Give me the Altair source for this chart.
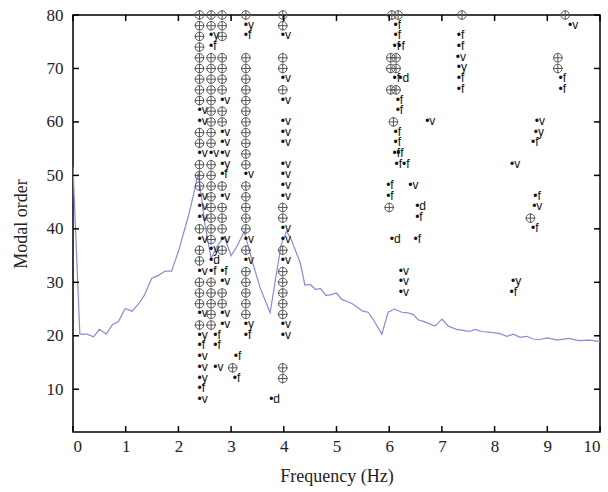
import altair as alt
import pandas as pd

# model orders of the stabilization diagram rows (top to bottom)
ORDERS = [80, 78, 76, 74, 72, 70, 68, 66, 64, 62, 60, 58, 56, 54, 52, 50, 48, 46, 44,
          42, 40, 38, 36, 34, 32, 30, 28, 26, 24, 22, 20, 18, 16, 14, 12, 10, 8]

# main pole columns: frequency and one code per order ('o' stable, v/f/d/y partly stable, '.' none)
COL_FREQ = [2.40, 2.62, 2.83, 3.28, 3.98]
COL_A = "".join(["ooooooooo", "vv", "oo", "v", "ooo", "vvv", "o", "v", "oo", "v",
                 "ooo", "v", "o", "yfvvyfv"])
COL_B = "".join(["ooyf", "ooooooooo", "v", "oooooooo", "y", "d", "f", "ooooo",
                 "......."])
COL_C = "".join(["ooo.", "oooo", "v", "oo", "vvv", "y", "f", "o", "v", "ooo", "v", "o",
                 ".", "f", "v", "oo", "vv", "......."])
COL_D = "".join(["oyf.", "ooooooooooo", "v", "ooooo", "v", "o", "v", "ooooo", "yf",
                 "......"])
COL_E = "".join(["oov.", "oo", "v", "o", "v", ".", "vvv", ".", "vvvv", "oo", "vv", "o",
                 "v", "ooooo", "vv", "..", "oo", ".."])
COL_CODES = [COL_A, COL_B, COL_C, COL_D, COL_E]

# scattered poles
EXTRA_FREQ = [2.70, 2.70, 2.70, 3.03, 3.09, 3.07, 3.76,
              6.05, 6.17, 6.12, 6.12, 6.10, 6.19, 6.03, 6.13, 6.03, 6.13, 6.10, 6.21,
              6.03, 6.13, 6.16, 6.16, 6.08, 6.72, 6.12, 6.12, 6.10, 6.17, 6.14, 6.28,
              5.98, 6.40, 5.98, 6.00, 6.53, 6.53, 6.05, 6.50, 6.22, 6.22, 6.22,
              7.38, 7.32, 7.32, 7.30, 7.32, 7.32, 7.32,
              9.34, 9.43, 9.20, 9.20, 9.25, 9.25, 8.80, 8.78, 8.73, 8.33, 8.77, 8.75,
              8.68, 8.73, 8.35, 8.32]
EXTRA_ORDER = [20, 18, 14, 14, 16, 12, 8,
               80, 80, 78, 76, 74, 74, 72, 72, 70, 70, 68, 68,
               66, 66, 64, 62, 60, 60, 58, 56, 54, 54, 52, 52,
               48, 48, 46, 44, 44, 42, 38, 38, 32, 30, 28,
               80, 76, 74, 72, 70, 68, 66,
               80, 78, 72, 70, 68, 66, 60, 58, 56, 52, 46, 44,
               42, 40, 30, 28]
EXTRA_KIND = "".join(["ffvoffd",
                      "ooff", "ffoo", "oofd", "ooff", "ovff", "ffff", "fvfo", "dfdf", "vvv",
                      "offvyff",
                      "ovooffvyfvfvofyf"])

# spectrum curve (scaled to the order axis)
SPEC_FREQ = [0.0, 0.13, 0.27, 0.39, 0.50, 0.63, 0.75, 0.86, 0.99, 1.12, 1.24, 1.35,
             1.49, 1.62, 1.75, 1.87, 2.00, 2.19, 2.28, 2.38, 2.50, 2.62, 2.75, 2.87,
             3.00, 3.10, 3.25, 3.40, 3.55, 3.74, 3.85, 3.95, 4.05, 4.12, 4.31, 4.40,
             4.50, 4.60, 4.70, 4.80, 4.90, 5.00, 5.10, 5.20, 5.30, 5.40, 5.50, 5.60,
             5.70, 5.86, 5.98, 6.10, 6.24, 6.35, 6.45, 6.55, 6.65, 6.87, 7.00, 7.12,
             7.28, 7.40, 7.53, 7.63, 7.76, 7.97, 8.10, 8.23, 8.36, 8.48, 8.61, 8.73,
             8.86, 9.00, 9.20, 9.40, 9.60, 9.80, 10.0]
SPEC_VAL = [51.5, 20.3, 20.3, 19.8, 21.2, 20.3, 22.1, 22.6, 25.1, 24.6, 25.9, 27.5,
            30.7, 31.3, 32.1, 32.1, 35.8, 42.4, 46.1, 50.5, 41.0, 34.5, 37.0, 38.5,
            35.0, 36.5, 39.5, 34.0, 29.0, 24.3, 31.0, 37.0, 39.5, 38.5, 33.7, 29.5,
            29.6, 28.7, 28.8, 27.5, 27.7, 28.0, 26.8, 26.4, 26.0, 25.3, 24.6, 24.4,
            23.0, 20.3, 24.4, 25.0, 24.4, 24.3, 24.0, 23.0, 22.7, 21.8, 23.1, 21.8,
            21.2, 21.0, 20.8, 21.2, 20.8, 20.6, 20.4, 19.9, 20.3, 19.7, 19.9, 19.4,
            19.3, 19.6, 19.2, 19.5, 19.1, 19.2, 18.9]

X_TICKS = [0, 1, 2, 3, 4, 5, 6, 7, 8, 9, 10]
Y_TICKS = [10, 20, 30, 40, 50, 60, 70, 80]

W, H = 527, 417

rows = []
for f, code in zip(COL_FREQ, COL_CODES):
    for o, k in zip(ORDERS, code):
        if k != ".":
            rows.append({"freq": f, "order": o, "kind": k})
for f, o, k in zip(EXTRA_FREQ, EXTRA_ORDER, EXTRA_KIND):
    rows.append({"freq": f, "order": o, "kind": k})
poles = pd.DataFrame(rows)
stable = poles[poles["kind"] == "o"]
other = poles[poles["kind"] != "o"].copy()
other["label"] = "\u2022" + other["kind"]

spec = pd.DataFrame({"freq": SPEC_FREQ, "val": SPEC_VAL})
xt = pd.DataFrame({"freq": X_TICKS})
yt = pd.DataFrame({"val": Y_TICKS})

xscale = alt.Scale(domain=[0, 10], nice=False, zero=False)
yscale = alt.Scale(domain=[2, 80], nice=False, zero=False)

axis_font = dict(labelFont="Liberation Serif", labelFontSize=17, labelColor="#222222",
                 titleFont="Liberation Serif", titleFontSize=18, titleColor="#222222",
                 titleFontWeight="normal", domain=False, ticks=False, grid=False)
xaxis = alt.Axis(values=X_TICKS, title="Frequency (Hz)", labelPadding=6,
                 titlePadding=13, **axis_font)
yaxis = alt.Axis(values=Y_TICKS, title="Modal order", labelPadding=10,
                 titlePadding=16, **axis_font)


def X(field):
    return alt.X(field, type="quantitative", scale=xscale, axis=xaxis)


def Y(field):
    return alt.Y(field, type="quantitative", scale=yscale, axis=yaxis)


line = alt.Chart(spec).mark_line(color="#8a8ad6", strokeWidth=1.2, clip=True).encode(
    x=X("freq"), y=Y("val"))

circles = alt.Chart(stable).mark_point(shape="circle", size=72, filled=False,
                                       color="#555555", strokeWidth=1, opacity=1).encode(
    x=X("freq"), y=Y("order"))
pluses = alt.Chart(stable).mark_point(shape="M-1.15,0L1.15,0M0,-1.15L0,1.15", size=72,
                                      filled=False, color="#555555", strokeWidth=1,
                                      opacity=1).encode(
    x=X("freq"), y=Y("order"))
labels = alt.Chart(other).mark_text(align="left", baseline="middle", dx=-2, dy=-1,
                                    font="Liberation Sans", fontSize=12,
                                    color="#111111").encode(
    x=X("freq"), y=Y("order"), text="label:N")

tick_style = dict(color="black", strokeWidth=1.5)
xt_bot = alt.Chart(xt).mark_rule(**tick_style).encode(
    x=X("freq"), y=alt.value(H), y2=alt.value(H - 6))
xt_top = alt.Chart(xt).mark_rule(**tick_style).encode(
    x=X("freq"), y=alt.value(0), y2=alt.value(6))
yt_left = alt.Chart(yt).mark_rule(**tick_style).encode(
    y=Y("val"), x=alt.value(0), x2=alt.value(6))
yt_right = alt.Chart(yt).mark_rule(**tick_style).encode(
    y=Y("val"), x=alt.value(W), x2=alt.value(W - 6))

chart = alt.layer(line, circles, pluses, labels, xt_bot, xt_top, yt_left, yt_right).properties(
    width=W, height=H,
    background="white",
    autosize=alt.AutoSizeParams(type="none"),
    padding={"left": 73, "top": 15, "right": 8, "bottom": 60},
).configure_view(
    stroke="black", strokeWidth=1.5
)

chart.save("out.html", embed_options={"renderer": "svg", "actions": False})
